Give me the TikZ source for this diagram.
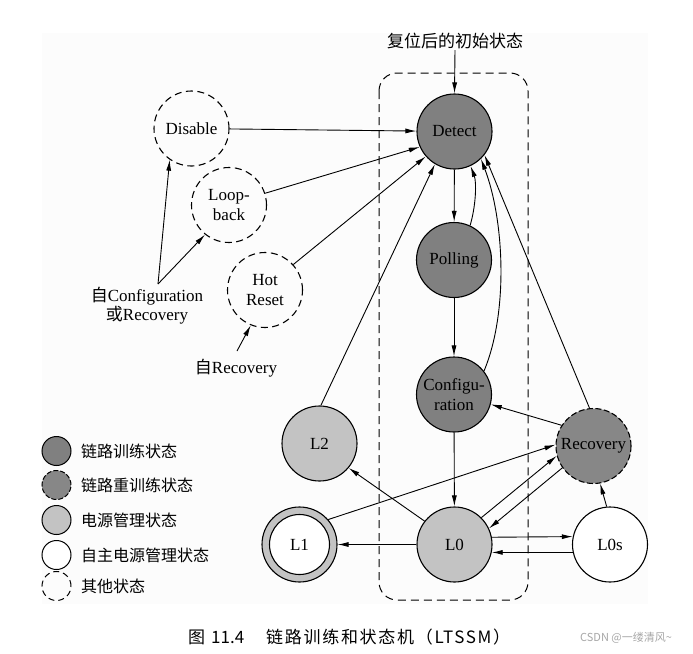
\documentclass[tikz,border=0pt]{standalone}
\usepackage{fontspec}
\setmainfont{Liberation Serif}
\newfontfamily\cjk{Noto Sans CJK SC}
\usetikzlibrary{arrows.meta}
\definecolor{darkc}{HTML}{808080}
\definecolor{recc}{HTML}{878787}
\definecolor{lightc}{HTML}{C3C3C3}
\definecolor{bgc}{HTML}{FCFCFC}
\begin{document}
\begin{tikzpicture}[x=1pt,y=-1pt,
  st/.style={circle,draw,line width=1.1pt,minimum size=75pt,inner sep=0pt,align=center,
    font=\fontsize{17}{20}\selectfont},
  train/.style={st,fill=darkc},
  retrain/.style={st,fill=recc,dash pattern=on 6pt off 2.5pt},
  power/.style={st,fill=lightc},
  autop/.style={st,fill=white},
  other/.style={st,dash pattern=on 7pt off 4.5pt},
  arr/.style={-{Latex[length=11pt,width=5pt]},line width=0.9pt},
  lbl/.style={inner sep=1pt,align=center,font=\fontsize{17}{19}\selectfont},
  leg/.style={circle,draw,line width=1pt,minimum size=29pt,inner sep=0pt},
  legtxt/.style={anchor=west,inner sep=0pt,font=\cjk\fontsize{16}{18}\selectfont}
]
\useasboundingbox (0,0) rectangle (693,653);
\fill[bgc] (42,33) rectangle (648,604);
\draw[line width=1pt,dash pattern=on 8pt off 5pt,rounded corners=18pt] (379,73) rectangle (528,600);

% states
\node[train] (detect) at (454.5,131.5) {Detect};
\node[train] (polling) at (454,260) {Polling};
\node[train] (config) at (454,394.5) {Configu-\\ration};
\node[retrain] (recovery) at (593.5,446) {Recovery};
\node[power] (l2) at (319.5,443.5) {L2};
\node[power] (l0) at (454.5,544.5) {L0};
\node[power] (l1) at (299.5,544.5) {};
\node[autop,minimum size=60pt] (l1in) at (l1) {L1};
\node[autop] (l0s) at (610,544.5) {L0s};
\node[other] (disable) at (191.5,128.5) {Disable};
\node[other] (loop) at (229,205) {Loop-\\back};
\node[other] (hot) at (265,290) {Hot\\Reset};

% labels
\node[lbl,font=\cjk\fontsize{17}{19}\selectfont] (toplbl) at (455,41) {复位后的初始状态};
\node[lbl] (cfglbl) at (147,306) {{\cjk 自}Configuration\\{\cjk 或}Recovery};
\node[lbl] (reclbl) at (236,368) {{\cjk 自}Recovery};
\coordinate (cfgtop) at (158,284);
\coordinate (rectop) at (237,351);

% connectors
\draw[arr] (toplbl.south) -- (detect.north);
\draw[arr] (disable) -- (detect);
\draw[arr] (loop.18) -- (detect.204);
\draw[arr] (hot.42) -- (detect.221);
\draw[arr] (l2.88) -- (detect.239);
\draw[arr] (detect) -- (polling);
\draw[arr] (polling.65) .. controls +(6,-20) and +(6,16) .. (detect.295);
\draw[arr] (config.38) .. controls +(25,-60) and +(23,60) .. (detect.314);
\draw[arr] (recovery.96) -- (detect.322);
\draw[arr] (polling) -- (config);
\draw[arr] (config) -- (l0);
\draw[arr] (recovery.147) -- (config.-15);
\draw[arr] (l0.142) -- (l2.320);
\draw[arr] (l1.41) -- (recovery.178);
\draw[arr] (l0.45) -- (recovery.195);
\draw[arr] (recovery.215) -- (l0.25);
\draw[arr] (l0) -- (l1);
\draw[arr] (l0.11.5) -- (l0s.168.5);
\draw[arr] (l0s.192) -- (l0.-12);
\draw[arr] (l0s.95) -- (recovery.280);
\draw[arr] (cfgtop) -- (disable.235);
\draw[arr] (cfgtop) -- (loop.231);
\draw[arr] (rectop) -- (hot.248);

% legend
\node[leg,fill=darkc] (lg1) at (56.5,451) {};
\node[leg,fill=recc,dash pattern=on 5pt off 2pt] (lg2) at (56.5,485) {};
\node[leg,fill=lightc] (lg3) at (56.5,520) {};
\node[leg,fill=white] (lg4) at (56.5,555) {};
\node[leg,dash pattern=on 6pt off 4pt] (lg5) at (56.5,586) {};
\node[legtxt] (lt1) at (81,451) {链路训练状态};
\node[legtxt] (lt2) at (81,485) {链路重训练状态};
\node[legtxt] (lt3) at (81,520) {电源管理状态};
\node[legtxt] (lt4) at (81,555) {自主电源管理状态};
\node[legtxt] (lt5) at (81,586) {其他状态};

% caption
\node[anchor=west,inner sep=0pt,font=\cjk\fontsize{17}{20}\selectfont] (cap) at (188,637)
  {图\hspace{6pt}11.4\hspace{22pt}{\addfontfeature{LetterSpace=10}链路训练和状态机（LTSSM）}};
\node[anchor=west,inner sep=0pt,text=black!35,font=\cjk\fontsize{11}{13}\selectfont] (wm) at (580,638)
  {CSDN @一缕清风\textasciitilde};
\end{tikzpicture}
\end{document}
